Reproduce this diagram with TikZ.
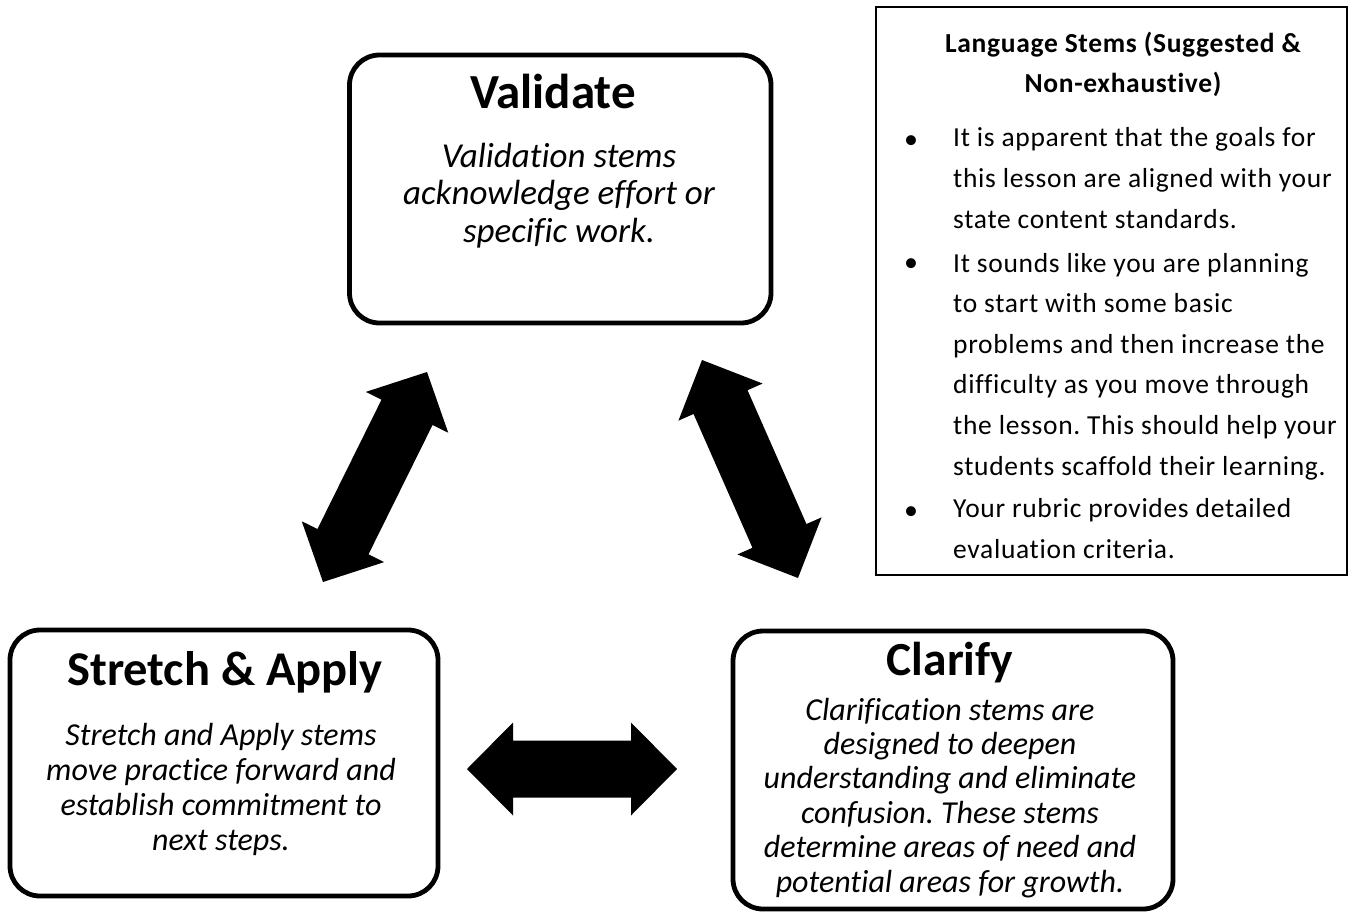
\documentclass[tikz,border=0pt]{standalone}
\usepackage{fontspec}
\setmainfont{Carlito}[Ligatures=NoCommon]
\usetikzlibrary{calc}
\frenchspacing
\newcommand\blockarrow[5]{% tip A, tip B, shaft half width, head half width, head length
  \coordinate (#1h) at ($(#1)!#5!(#2)$);
  \coordinate (#2h) at ($(#2)!#5!(#1)$);
  \fill[black] (#1) -- ($(#1h)!#4!-90:(#2)$) -- ($(#1h)!#3!-90:(#2)$)
    -- ($(#2h)!#3!90:(#1)$) -- ($(#2h)!#4!90:(#1)$) -- (#2)
    -- ($(#2h)!#4!-90:(#1)$) -- ($(#2h)!#3!-90:(#1)$)
    -- ($(#1h)!#3!90:(#2)$) -- ($(#1h)!#4!90:(#2)$) -- cycle;
}
\newfontfamily\langfont{Carlito}[LetterSpace=2.5,Ligatures=NoCommon]
\tikzset{
  roundbox/.style={draw=black, line width=4.8pt, rounded corners=30pt, inner sep=0pt},
  langbox/.style={draw=black, line width=1.8pt, inner sep=0pt},
  titletext/.style={anchor=base, inner sep=0pt},
  bodytext/.style={anchor=base, inner sep=0pt, align=center},
  langtext/.style={anchor=base west, inner sep=0pt, align=left, font=\langfont\fontsize{27.5}{40.6}\selectfont},
  bullettext/.style={anchor=base, inner sep=0pt, font=\fontsize{28}{40}\selectfont},
}
\begin{document}
\begin{tikzpicture}[x=1pt,y=-1pt]
\useasboundingbox (0,0) rectangle (1352,913);
% boxes
\node[roundbox, minimum width=421.5pt, minimum height=268pt] (val) at (560.25,189) {};
\node[roundbox, minimum width=428pt, minimum height=266pt] (str) at (224,763) {};
\node[roundbox, minimum width=440pt, minimum height=278pt] (cla) at (953,770) {};
\node[langbox, minimum width=471pt, minimum height=568pt] (lang) at (1111.5,291) {};
% Validate
\node[titletext, font=\fontsize{49}{56}\selectfont\bfseries] (valt) at (553,108) {Validate};
\node[bodytext, font=\fontsize{35}{37.5}\selectfont\itshape] (valb) at (559,242)
  {Validation stems\\acknowledge effort or\\specific work.};
% Stretch & Apply
\node[titletext, font=\fontsize{48.5}{50}\selectfont\bfseries] (strt) at (225,685) {Stretch \& Apply};
\node[bodytext, font=\fontsize{32}{34.7}\selectfont\itshape] (strb) at (221,850)
  {Stretch and Apply stems\\move practice forward and\\establish commitment to\\next steps.};
% Clarify
\node[titletext, font=\fontsize{47.5}{50}\selectfont\bfseries] (clat) at (950,675) {Clarify};
\node[bodytext, font=\fontsize{32}{34.4}\selectfont\itshape] (clab) at (950,892)
  {Clarification stems are\\designed to deepen\\understanding and eliminate\\confusion. These stems\\determine areas of need and\\potential areas for growth.};
% Language stems
\node[bodytext, font=\langfont\fontsize{27.5}{40}\selectfont\bfseries] (langt) at (1123,92)
  {Language Stems (Suggested \&\\Non-exhaustive)};
\node[bullettext] (b1) at (911,148) {•};
\node[langtext] (t1) at (953,228) {It is apparent that the goals for\\this lesson are aligned with your\\state content standards.};
\node[bullettext] (b2) at (911,271) {•};
\node[langtext] (t2) at (953,475) {It sounds like you are planning\\to start with some basic\\problems and then increase the\\difficulty as you move through\\the lesson. This should help your\\students scaffold their learning.};
\node[bullettext] (b3) at (911,519) {•};
\node[langtext] (t3) at (953,558) {Your rubric provides detailed\\evaluation criteria.};
% arrows
\coordinate (la) at (323,582);
\coordinate (lb) at (427,372);
\blockarrow{la}{lb}{28.5pt}{46pt}{45pt}
\coordinate (ra) at (702,360);
\coordinate (rb) at (798,578);
\blockarrow{ra}{rb}{29.5pt}{46pt}{46pt}
\coordinate (ha) at (467,769);
\coordinate (hb) at (677,769);
\blockarrow{ha}{hb}{28.5pt}{46.5pt}{46pt}
\end{tikzpicture}
\end{document}
